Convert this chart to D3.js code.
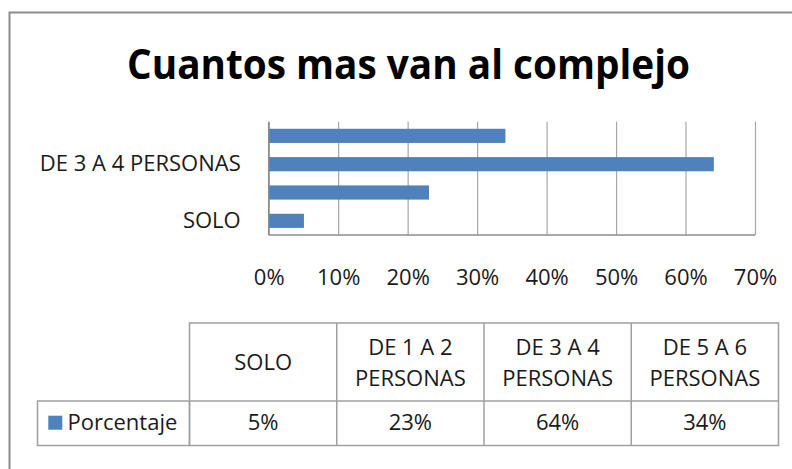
<!DOCTYPE html>
<html>
<head>
<meta charset="utf-8">
<script src="https://cdn.jsdelivr.net/npm/d3@7"></script>
<style>
  html, body { margin: 0; padding: 0; background: #fff; }
  svg { display: block; font-family: "Open Sans", "Noto Sans", sans-serif; }
</style>
</head>
<body>
<svg id="chart" width="792" height="469"></svg>
<script>
const title = "Cuantos mas van al complejo";
const categories = ["SOLO", "DE 1 A 2 PERSONAS", "DE 3 A 4 PERSONAS", "DE 5 A 6 PERSONAS"];
const headerLines = [["SOLO"], ["DE 1 A 2", "PERSONAS"], ["DE 3 A 4", "PERSONAS"], ["DE 5 A 6", "PERSONAS"]];
const seriesName = "Porcentaje";
const values = [0.05, 0.23, 0.64, 0.34];
const valueLabels = ["5%", "23%", "64%", "34%"];
const xTicks = [0, 0.1, 0.2, 0.3, 0.4, 0.5, 0.6, 0.7];
const shownCategoryLabels = ["SOLO", "DE 3 A 4 PERSONAS"];

const barColor = "#4f81bd";
const gridColor = "#a6a6a6";
const textColor = "#1a1a1a";

const svg = d3.select("#chart");

// outer chart border (continues past the right and bottom edges)
svg.append("rect")
  .attr("x", 9.5).attr("y", 12.5).attr("width", 900).attr("height", 600)
  .attr("fill", "none").attr("stroke", "#8c8c8c").attr("stroke-width", 2);

// title
svg.append("text")
  .attr("x", 127).attr("y", 79)
  .attr("textLength", 563).attr("lengthAdjust", "spacingAndGlyphs")
  .attr("font-size", 41).attr("font-weight", 700).attr("fill", "#000")
  .text(title);

// plot area
const plot = { left: 268.7, right: 755, top: 121.7, bottom: 235 };
const x = d3.scaleLinear().domain([0, 0.7]).range([plot.left, plot.right]);
const y = d3.scaleBand().domain(categories.slice().reverse())
  .range([plot.top, plot.bottom]).paddingInner(0.5).paddingOuter(0.25);

// grid lines + tick labels
const xAxis = d3.axisBottom(x).tickValues(xTicks)
  .tickSize(-(plot.bottom - plot.top)).tickFormat(d3.format(".0%"));
const gx = svg.append("g").attr("transform", `translate(0,${plot.bottom})`).call(xAxis);
gx.select(".domain").remove();
gx.selectAll(".tick line").attr("stroke", gridColor).attr("stroke-width", 1.2);
gx.selectAll(".tick text")
  .attr("y", 50).attr("dy", null)
  .attr("font-size", 22).attr("fill", textColor)
  .attr("font-family", "'Open Sans', sans-serif");

// axis lines
svg.append("line").attr("x1", plot.left).attr("x2", plot.right)
  .attr("y1", plot.bottom).attr("y2", plot.bottom)
  .attr("stroke", "#8c8c8c").attr("stroke-width", 1.5);
svg.append("line").attr("x1", plot.left).attr("x2", plot.left)
  .attr("y1", plot.top).attr("y2", plot.bottom)
  .attr("stroke", "#8c8c8c").attr("stroke-width", 1.5);

// bars
svg.append("g").selectAll("rect").data(categories).join("rect")
  .attr("x", x(0) + 0.5)
  .attr("y", d => y(d))
  .attr("width", (d, i) => x(values[i]) - x(0))
  .attr("height", y.bandwidth())
  .attr("fill", barColor);

// category labels (Excel skips every other)
const yAxis = d3.axisLeft(y).tickSize(0).tickPadding(28)
  .tickFormat(d => shownCategoryLabels.includes(d) ? d : "");
const gy = svg.append("g").attr("transform", `translate(${plot.left},0)`).call(yAxis);
gy.select(".domain").remove();
gy.selectAll(".tick text")
  .attr("font-size", 22).attr("fill", textColor)
  .attr("font-family", "'Open Sans', sans-serif");

// data table
const tbl = { labelLeft: 37.5, left: 189.5, right: 778.5, top: 323, mid: 401, bottom: 445.5 };
const col = d3.scaleBand().domain(categories).range([tbl.left, tbl.right]);
const tg = svg.append("g").attr("stroke", "#a0a0a0").attr("stroke-width", 1.5).attr("fill", "none");
tg.append("rect").attr("x", tbl.left).attr("y", tbl.top)
  .attr("width", tbl.right - tbl.left).attr("height", tbl.bottom - tbl.top);
tg.append("rect").attr("x", tbl.labelLeft).attr("y", tbl.mid)
  .attr("width", tbl.left - tbl.labelLeft).attr("height", tbl.bottom - tbl.mid);
tg.append("line").attr("x1", tbl.left).attr("x2", tbl.right).attr("y1", tbl.mid).attr("y2", tbl.mid);
tg.selectAll("line.col").data(categories.slice(1)).join("line").attr("class", "col")
  .attr("x1", d => col(d)).attr("x2", d => col(d))
  .attr("y1", tbl.top).attr("y2", tbl.bottom);

// header texts
const hdr = svg.append("g").attr("font-size", 22).attr("fill", textColor).attr("text-anchor", "middle");
categories.forEach((c, i) => {
  const lines = headerLines[i];
  const cx = col(c) + col.bandwidth() / 2;
  const mid = (tbl.top + tbl.mid) / 2;
  const lh = 31;
  lines.forEach((ln, j) => {
    hdr.append("text")
      .attr("x", cx)
      .attr("y", mid + (j - (lines.length - 1) / 2) * lh + 8)
      .text(ln);
  });
});

// values row
const vr = svg.append("g").attr("font-size", 22).attr("fill", textColor).attr("text-anchor", "middle");
categories.forEach((c, i) => {
  vr.append("text").attr("x", col(c) + col.bandwidth() / 2).attr("y", 430).text(valueLabels[i]);
});

// legend key + series name
svg.append("rect").attr("x", 48.3).attr("y", 415.7).attr("width", 14).attr("height", 14).attr("fill", barColor);
svg.append("text").attr("x", 67.5).attr("y", 430).attr("font-size", 22).attr("fill", textColor).text(seriesName);
</script>
</body>
</html>
